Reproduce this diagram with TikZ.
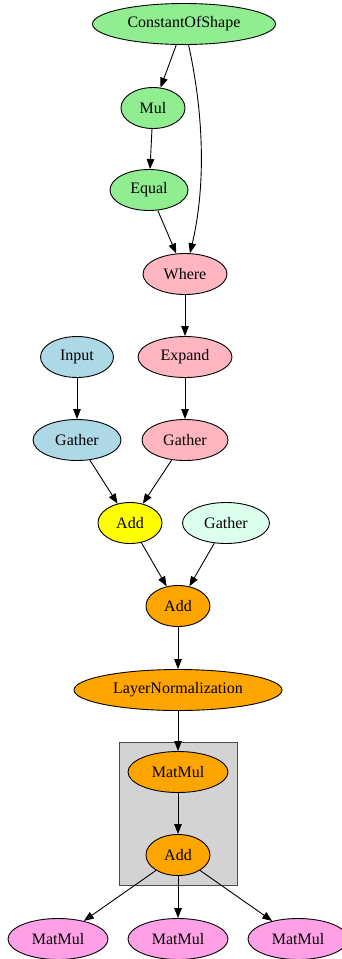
\documentclass[tikz,border=0pt]{standalone}
\usepackage{fontspec}
\setmainfont{Liberation Serif}
\usetikzlibrary{arrows.meta, shapes.geometric}

\definecolor{opgreen}{HTML}{90EE90}
\definecolor{oppink}{HTML}{FFB6C1}
\definecolor{opblue}{HTML}{ADD8E6}
\definecolor{opyellow}{HTML}{FFFF00}
\definecolor{opmint}{HTML}{DDFFEE}
\definecolor{oporange}{HTML}{FFA500}
\definecolor{opviolet}{HTML}{FFA0E6}
\definecolor{grpgray}{HTML}{D3D3D3}

\begin{document}
\begin{tikzpicture}[x=1pt, y=-1pt, line width=0.9pt,
		op/.style={ellipse, draw, inner sep=0pt, minimum height=41, font=\fontsize{16}{18}\selectfont},
		edge/.style={-{Triangle[length=10pt, width=7.5pt]}}]
			\useasboundingbox (0,0) rectangle (342,959);

			% group box
			\draw[fill=grpgray, draw=black!70] (119,742) rectangle (237,885);

			\node (cos)[op, fill=opgreen, minimum width=183] at (184,  24) {ConstantOfShape};
			\node (mul)[op, fill=opgreen, minimum width=64]  at (153, 108) {Mul};
			\node (eq)[op, fill=opgreen, minimum width=78]   at (149, 190) {Equal};
			\node (where)[op, fill=oppink, minimum width=84] at (185, 274) {Where};

			\node (expand)[op, fill=oppink, minimum width=94] at (185, 357) {Expand};
			\node (input)[op, fill=opblue, minimum width=73]  at (77,  357) {Input};
			\node (gath1)[op, fill=opblue, minimum width=88]  at (77,  440) {Gather};
			\node (gath2)[op, fill=oppink, minimum width=86]  at (185, 440) {Gather};

			\node (add1)[op, fill=opyellow, minimum width=64] at (130, 523) {Add};
			\node (gath3)[op, fill=opmint, minimum width=87]  at (226, 523) {Gather};
			\node (add2)[op, fill=oporange, minimum width=64] at (178, 606) {Add};
			\node (ln)[op, fill=oporange, minimum width=208]  at (178, 690) {LayerNormalization};

			\node (mm)[op, fill=oporange, minimum width=100]  at (178, 772) {MatMul};
			\node (add3)[op, fill=oporange, minimum width=64] at (178, 855) {Add};

			\node (mmL)[op, fill=opviolet, minimum width=100] at (58,  939) {MatMul};
			\node (mmM)[op, fill=opviolet, minimum width=100] at (178, 939) {MatMul};
			\node (mmR)[op, fill=opviolet, minimum width=100] at (298, 939) {MatMul};

			\draw[edge] (cos) -- (mul);
			\draw[edge] (mul) -- (eq);
			\draw[edge] (cos) .. controls (205, 120) and (205, 190) .. (where);
			\draw[edge] (eq) -- (where);
			\draw[edge] (where) -- (expand);
			\draw[edge] (input) -- (gath1);
			\draw[edge] (expand) -- (gath2);
			\draw[edge] (gath1) -- (add1);
			\draw[edge] (gath2) -- (add1);
			\draw[edge] (add1) -- (add2);
			\draw[edge] (gath3) -- (add2);
			\draw[edge] (add2) -- (ln);
			\draw[edge] (ln) -- (mm);
			\draw[edge] (mm) -- (add3);
			\draw[edge] (add3) -- (mmL);
			\draw[edge] (add3) -- (mmM);
			\draw[edge] (add3) -- (mmR);
		\end{tikzpicture}
\end{document}
